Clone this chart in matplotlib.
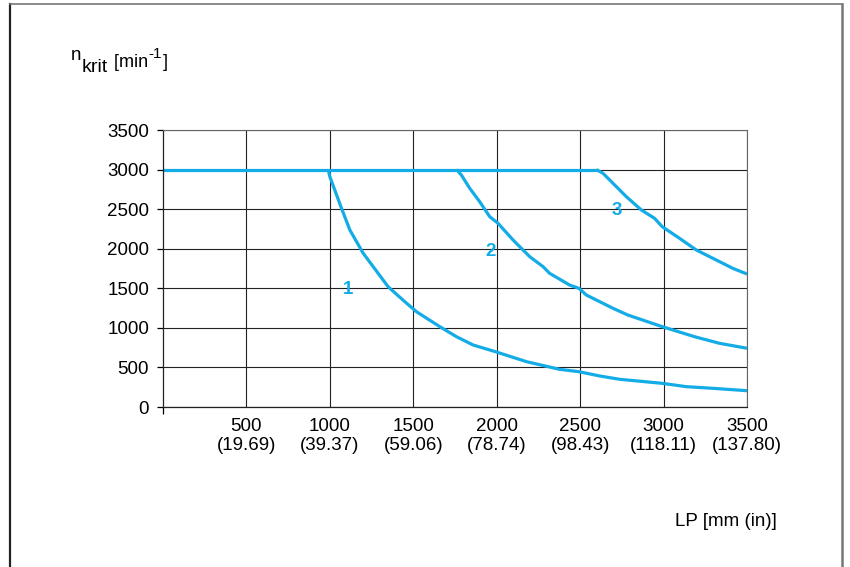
import matplotlib
matplotlib.use('Agg')
import matplotlib.pyplot as plt

plt.rcParams['font.family'] = ['Liberation Sans', 'DejaVu Sans']

# values
flat_x = [0, 2600]
flat_y = [3000, 3000]

lp1 = [990, 1000, 1070, 1120, 1200, 1349, 1449, 1519, 1659, 1759, 1859, 1992,
       2178, 2377, 2493, 2617, 2737, 2992, 3136, 3296, 3500]
n1 = [3000, 2910, 2510, 2236, 1942, 1520, 1331, 1204, 1015, 888, 783, 699,
      573, 476, 446, 392, 350, 299, 257, 236, 206]

lp2 = [1759, 1788, 1838, 1898, 1958, 2008, 2098, 2198, 2278, 2317, 2437, 2493,
       2537, 2617, 2697, 2786, 2992, 3186, 3335, 3500]
n2 = [3000, 2932, 2764, 2594, 2405, 2321, 2110, 1899, 1773, 1689, 1541, 1499,
      1415, 1331, 1247, 1162, 1015, 888, 805, 742]

lp3 = [2597, 2637, 2697, 2777, 2867, 2946, 2992, 3096, 3196, 3316, 3415, 3500]
n3 = [3000, 2953, 2826, 2657, 2489, 2384, 2278, 2131, 1984, 1857, 1752, 1680]

curve_names = ['1', '2', '3']
name_pos = [(1108, 1480), (1964, 1960), (2719, 2480)]

xticks = [500, 1000, 1500, 2000, 2500, 3000, 3500]
xlabels = ['500\n(19.69)', '1000\n(39.37)', '1500\n(59.06)', '2000\n(78.74)',
           '2500\n(98.43)', '3000\n(118.11)', '3500\n(137.80)']
yticks = [0, 500, 1000, 1500, 2000, 2500, 3000, 3500]

blue = '#13ACE6'
W, H = 850, 567

fig = plt.figure(figsize=(8.5, 5.67), dpi=100)
ax = fig.add_axes([163 / W, 1 - 407 / H, 584 / W, 277 / H])

ax.plot(flat_x, flat_y, color=blue, lw=2.3, solid_capstyle='butt')
for xs, ys in [(lp1, n1), (lp2, n2), (lp3, n3)]:
    ax.plot(xs, ys, color=blue, lw=2.3, solid_capstyle='butt')
for name, (tx, ty) in zip(curve_names, name_pos):
    ax.text(tx, ty, name, color=blue, fontsize=13.5, fontweight='bold',
            ha='center', va='center')

ax.set_xlim(0, 3500)
ax.set_ylim(0, 3500)
ax.set_xticks(xticks)
ax.set_xticklabels(xlabels, fontsize=13.5, linespacing=1.15)
ax.set_yticks(yticks)
ax.set_yticklabels([str(v) for v in yticks], fontsize=13.5)
ax.set_xticks([0], minor=True)
ax.tick_params(axis='x', which='major', length=0, pad=8)
ax.tick_params(axis='x', which='minor', length=5, width=0.9, direction='out')
ax.tick_params(axis='y', length=4, width=0.9, direction='out', pad=6)

ax.grid(True, color='#222222', lw=0.8)
ax.set_axisbelow(True)
for s in ['left', 'bottom']:
    ax.spines[s].set_color('#222222')
    ax.spines[s].set_linewidth(0.9)
for s in ['top', 'right']:
    ax.spines[s].set_color('#666666')
    ax.spines[s].set_linewidth(0.8)

# y axis title built from pieces: n, subscript krit, [min, superscript -1, ]
renderer = fig.canvas.get_renderer()
pieces = [('n', 13.5, 60), ('krit', 14, 72), (' [min', 13, 67), ('-1', 11, 58), (']', 13, 67)]
xpos = 71
for txt, fs, base in pieces:
    t = fig.text(xpos / W, 1 - base / H, txt, fontsize=fs, ha='left', va='baseline')
    xpos = t.get_window_extent(renderer).x1 + 0.5

fig.text(675 / W, 1 - 521 / H, 'LP [mm (in)]', fontsize=13.5,
         ha='left', va='center')

# outer frame (open at the bottom)
fig.add_artist(plt.Line2D([10 / W, 10 / W], [0, 1 - 4 / H],
                          transform=fig.transFigure, color='#222222', lw=1.6))
fig.add_artist(plt.Line2D([10 / W, 842 / W], [1 - 4 / H, 1 - 4 / H],
                          transform=fig.transFigure, color='#777777', lw=1.2))
fig.add_artist(plt.Line2D([842 / W, 842 / W], [0, 1 - 4 / H],
                          transform=fig.transFigure, color='#777777', lw=1.8))

fig.savefig('out.png', dpi=100)
